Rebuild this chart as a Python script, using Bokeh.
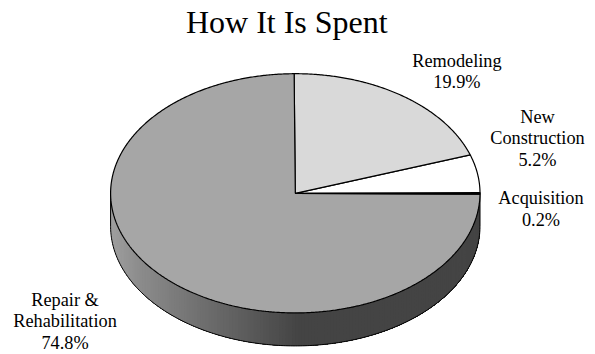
import numpy as np
from bokeh.core.properties import value
from bokeh.embed import file_html
from bokeh.models import Range1d
from bokeh.plotting import figure
from bokeh.resources import INLINE

# Spending shares, counter-clockwise from three o'clock
categories = ["New Construction", "Remodeling", "Repair & Rehabilitation", "Acquisition"]
shares = [5.2, 19.9, 74.8, 0.2]
slice_colors = ["#ffffff", "#d9d9d9", "#a6a6a6", "#ffffff"]

title_text = "How It Is Spent"
label_lines = [
    ["Remodeling", "19.9%"],
    ["New", "Construction", "5.2%"],
    ["Acquisition", "0.2%"],
    ["Repair &", "Rehabilitation", "74.8%"],
]
label_centers = [456.4, 537, 540.5, 64.5]
label_tops = [60, 116, 197.5, 299]

# Shade stops along the rim, by horizontal position
rim_stops_x = [110, 140, 200, 250, 300, 480]
rim_stops_gray = [160, 140, 112, 90, 68, 68]

CX, CY, RX, RY, DEPTH = 294.8, 192.8, 184.7, 119.6, 33
FONT = value("Liberation Serif")


def point(angle_deg, drop=0.0):
    a = np.radians(angle_deg)
    return CX + RX * np.cos(a), CY - RY * np.sin(a) + drop


p = figure(
    width=595, height=354, output_backend="svg", toolbar_location=None,
    x_range=Range1d(0, 595), y_range=Range1d(354, 0),
    min_border=0, outline_line_color=None, background_fill_color="white",
)
p.axis.visible = False
p.grid.visible = False

# Rim of the disc: painted left to right, each band reaching the far edge,
# so that no seams show between neighbouring shades
band_edges = np.linspace(180, 360, 181)
for a0 in band_edges[:-1]:
    t = np.linspace(a0, 360, 60)
    x_top, y_top = point(t)
    x_bot, y_bot = point(t, DEPTH)
    g = int(np.interp(point(a0 + 0.5)[0], rim_stops_x, rim_stops_gray))
    p.patch(np.r_[x_top, x_bot[::-1]], np.r_[y_top, y_bot[::-1]],
            fill_color=f"#{g:02x}{g:02x}{g:02x}", line_color=None)

# Rim outline
arc = np.linspace(180, 360, 241)
bx, by = point(arc, DEPTH)
p.line(bx, by, line_color="black", line_width=1)
for edge in (180, 360):
    ex, ey = point(edge)
    p.line([ex, ex], [ey, ey + DEPTH], line_color="black", line_width=1)

# Top face, one slice per share
start = 0.0
for share, color in zip(shares, slice_colors):
    end = start + share * 3.6
    t = np.linspace(start, end, max(3, int(share * 8)))
    ax, ay = point(t)
    p.patch(np.r_[CX, ax], np.r_[CY, ay], fill_color=color,
            line_color="black", line_width=1.2)
    start = end

# Title and slice labels
p.text([286.3], [21], text=[title_text], text_font=FONT, text_font_size="32px",
       text_align="center", text_baseline="alphabetic", text_color="black")
for lines, cx, top in zip(label_lines, label_centers, label_tops):
    ys = [top + i * 21.7 for i in range(len(lines))]
    p.text([cx] * len(lines), ys, text=lines, text_font=FONT, text_font_size="18.3px",
           text_align="center", text_baseline="alphabetic", text_color="black")

open("out.html", "w").write(file_html(p, INLINE))
